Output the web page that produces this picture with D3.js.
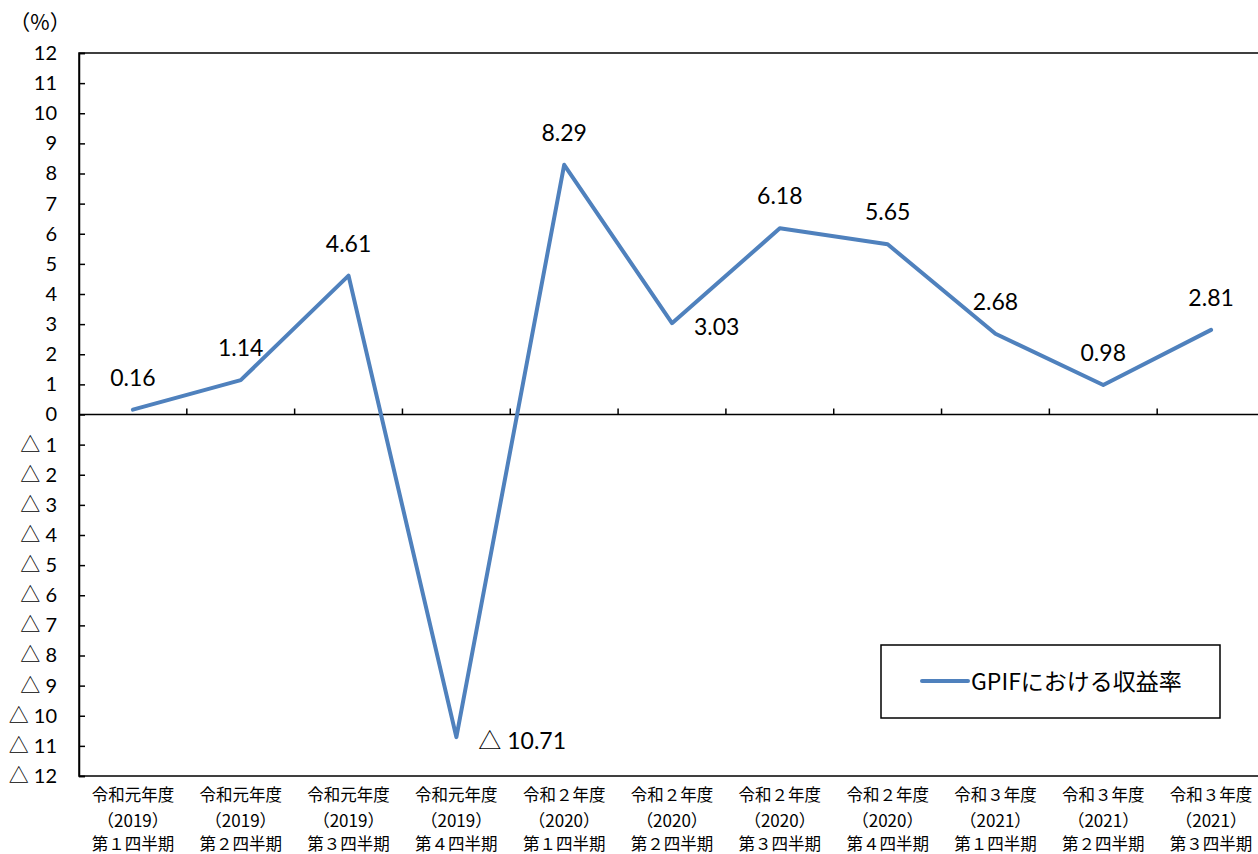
<!DOCTYPE html>
<html><head><meta charset="utf-8">
<script src="https://cdn.jsdelivr.net/npm/d3@7"></script>
<style>body{margin:0;background:#fff}svg{display:block}</style>
</head><body>
<svg id="c" width="1258" height="854"></svg>
<script>
const eraLabels = ["令和元年度","令和元年度","令和元年度","令和元年度","令和２年度","令和２年度","令和２年度","令和２年度","令和３年度","令和３年度","令和３年度"];
const yearLabels = ["（2019）","（2019）","（2019）","（2019）","（2020）","（2020）","（2020）","（2020）","（2021）","（2021）","（2021）"];
const quarterLabels = ["第１四半期","第２四半期","第３四半期","第４四半期","第１四半期","第２四半期","第３四半期","第４四半期","第１四半期","第２四半期","第３四半期"];
const returns = [0.16, 1.14, 4.61, -10.71, 8.29, 3.03, 6.18, 5.65, 2.68, 0.98, 2.81];
const labelSide = ["above","above","above","right","above","right","above","above","above","above","above"];
const yTicks = d3.range(-12, 13, 1);
const seriesName = "GPIFにおける収益率";
const unitLabel = "（%）";

const svg = d3.select("#c");
const pL = 79, pT = 53, pR = 1265, pB = 776;
const x = d3.scaleBand().domain(d3.range(returns.length)).range([pL, pR]);
const y = d3.scaleLinear().domain([-12, 12]).range([pB, pT]);
const numFont = "Lato, 'Noto Sans', sans-serif";
const jpFont = "'Noto Sans CJK JP', sans-serif";
const tri = "△";

// writes a number with a CJK triangle for negatives
function writeNum(sel, v, digits) {
  sel.text(null);
  const s = digits == null ? String(Math.abs(v)) : Math.abs(v).toFixed(digits);
  if (v < 0) {
    sel.append("tspan").attr("font-family", jpFont).text(tri);
    sel.append("tspan").text(" " + s);
  } else {
    sel.append("tspan").text(s);
  }
}

// frame
svg.append("rect").attr("x", pL).attr("y", pT).attr("width", pR-pL).attr("height", pB-pT)
  .attr("fill","none").attr("stroke","#000").attr("stroke-width",1.5);

// y axis
const yAxis = d3.axisLeft(y).tickValues(yTicks).tickSize(-6).tickPadding(22);
const gy = svg.append("g").attr("transform", `translate(${pL},0)`).call(yAxis);
gy.select(".domain").attr("stroke","#000").attr("stroke-width",1.5);
gy.selectAll(".tick line").attr("stroke","#000").attr("stroke-width",1.5);
gy.selectAll(".tick text").attr("font-family", numFont).attr("font-size",20).attr("fill","#000")
  .each(function(d){ writeNum(d3.select(this), d, null); });

// zero axis with category ticks
const bounds = d3.range(1, returns.length).map(i => x(i));
svg.append("line").attr("x1", pL).attr("x2", pR).attr("y1", y(0)).attr("y2", y(0))
  .attr("stroke","#000").attr("stroke-width",1.5);
svg.append("g").selectAll("line").data(bounds).join("line")
  .attr("x1", d=>d).attr("x2", d=>d).attr("y1", y(0)).attr("y2", y(0)-6)
  .attr("stroke","#000").attr("stroke-width",1.5);

// category labels
const cg = svg.append("g").attr("font-family", jpFont).attr("font-size",16.5).attr("fill","#000").attr("text-anchor","middle");
returns.forEach((_, i) => {
  const cx = x(i) + x.bandwidth()/2;
  cg.append("text").attr("x", cx).attr("y", 801).text(eraLabels[i]);
  cg.append("text").attr("x", cx).attr("y", 827).attr("font-family","'Liberation Sans Narrow','Noto Sans CJK JP',sans-serif").attr("font-size",17).text(yearLabels[i]);
  cg.append("text").attr("x", cx).attr("y", 850).text(quarterLabels[i]);
});

// unit
svg.append("text").attr("x", 40).attr("y", 30).attr("text-anchor","middle")
  .attr("font-family", jpFont).attr("font-size",21).text(unitLabel);

// line
const line = d3.line().x((d,i)=>x(i)+x.bandwidth()/2).y(d=>y(d));
svg.append("path").datum(returns).attr("d", line).attr("fill","none")
  .attr("stroke","#4F81BD").attr("stroke-width",4).attr("stroke-linejoin","round").attr("stroke-linecap","round");

// data labels
const lg = svg.append("g").attr("font-family", numFont).attr("font-size",23).attr("fill","#000");
returns.forEach((v, i) => {
  const px = x(i) + x.bandwidth()/2, py = y(v);
  let t;
  if (labelSide[i] === "above") {
    t = lg.append("text").attr("x", px).attr("y", py - 24).attr("text-anchor","middle");
  } else {
    t = lg.append("text").attr("x", px + 22).attr("y", py + 12).attr("text-anchor","start");
  }
  writeNum(t, v, 2);
});

// legend
const leg = svg.append("g");
leg.append("rect").attr("x", 881).attr("y", 645).attr("width", 339).attr("height", 73)
  .attr("fill","#fff").attr("stroke","#000").attr("stroke-width",1.5);
leg.append("line").attr("x1", 922).attr("x2", 968).attr("y1", 681).attr("y2", 681)
  .attr("stroke","#4F81BD").attr("stroke-width",4).attr("stroke-linecap","round");
leg.append("text").attr("x", 971).attr("y", 690).attr("font-family", jpFont).attr("font-size",23).text(seriesName);
</script>
</body></html>
